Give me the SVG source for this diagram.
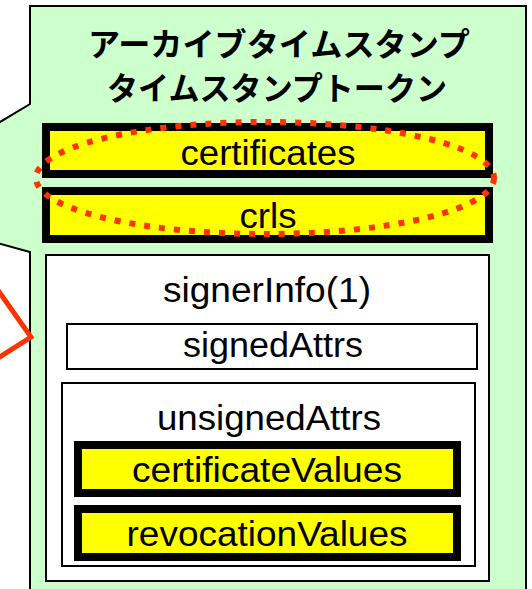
<svg xmlns="http://www.w3.org/2000/svg" width="532" height="589" viewBox="0 0 532 589">
  <style>
    .callout { fill: #CCFFCC; stroke: #000; stroke-width: 2; }
    .hl { fill: #FFFF00; stroke: #000; stroke-width: 8; }
    .plain { fill: #FFFFFF; stroke: #000; stroke-width: 2; }
    .lbl { font-family: "Liberation Sans", Arial, sans-serif; font-size: 35px; fill: #000; text-anchor: middle; }
    .title { font-family: "Noto Sans CJK JP", sans-serif; font-weight: bold; font-size: 32px; fill: #000; text-anchor: middle; }
    .dots { fill: none; stroke: #FF3300; stroke-width: 6; stroke-dasharray: 6 9; }
    .pointer { fill: none; stroke: #FF3300; stroke-width: 5; stroke-linejoin: miter; }
  </style>

  <!-- callout balloon with tail to the left -->
  <g id="token">
    <polygon class="callout" points="30,6 526,6 526,600 30,600 30,252 -10,241 -10,128 30,104"/>
    <text class="title" x="279" y="56" textLength="382" lengthAdjust="spacingAndGlyphs">アーカイブタイムスタンプ</text>
    <text class="title" x="277" y="100" textLength="340" lengthAdjust="spacingAndGlyphs">タイムスタンプトークン</text>
  </g>

  <g id="certificates">
    <rect class="hl" x="46" y="127" width="443" height="47"/>
    <text class="lbl" x="268" y="165" textLength="175" lengthAdjust="spacingAndGlyphs">certificates</text>
  </g>

  <g id="crls">
    <rect class="hl" x="46" y="191" width="443" height="48"/>
    <text class="lbl" x="268" y="228" textLength="57" lengthAdjust="spacingAndGlyphs">crls</text>
  </g>

  <g id="signerInfo">
    <rect class="plain" x="46" y="255" width="443" height="326"/>
    <text class="lbl" x="267" y="302" textLength="208" lengthAdjust="spacingAndGlyphs">signerInfo(1)</text>
  </g>

  <g id="signedAttrs">
    <rect class="plain" x="67" y="324" width="410" height="45"/>
    <text class="lbl" x="273" y="357" textLength="180" lengthAdjust="spacingAndGlyphs">signedAttrs</text>
  </g>

  <g id="unsignedAttrs">
    <rect class="plain" x="62" y="383" width="413" height="183"/>
    <text class="lbl" x="269" y="430" textLength="224" lengthAdjust="spacingAndGlyphs">unsignedAttrs</text>
  </g>

  <g id="certificateValues">
    <rect class="hl" x="78" y="445" width="379" height="48"/>
    <text class="lbl" x="267" y="482" textLength="270" lengthAdjust="spacingAndGlyphs">certificateValues</text>
  </g>

  <g id="revocationValues">
    <rect class="hl" x="78" y="509" width="379" height="48"/>
    <text class="lbl" x="267" y="546" textLength="281" lengthAdjust="spacingAndGlyphs">revocationValues</text>
  </g>

  <g id="connectors">
    <!-- dotted ring grouping certificates and crls -->
    <ellipse class="dots" cx="265" cy="178" rx="229" ry="56"/>
    <!-- tip of the pointer arrow entering from the left -->
    <polyline class="pointer" points="-5,286 31,337 -5,360"/>
  </g>
</svg>
